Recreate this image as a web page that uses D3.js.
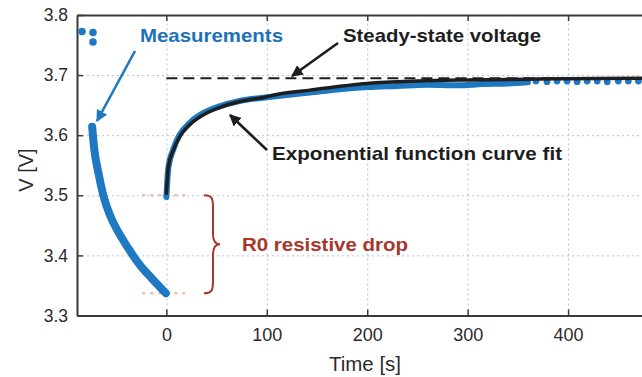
<!DOCTYPE html>
<html>
<head>
<meta charset="utf-8">
<script src="https://cdn.jsdelivr.net/npm/d3@7"></script>
<style>
  body { margin: 0; background: #fff; }
  svg { display: block; font-family: "Liberation Sans", Arial, sans-serif; }
</style>
</head>
<body>
<svg id="chart" width="642" height="377"></svg>
<script>
// measured voltage before the current step (relaxation from load)
const preTime = [-73.9, -71.9, -67.9, -62.9, -56.2, -47.9, -38, -26.4, -14.7, -0.5];
const preVolt = [3.614, 3.578, 3.539, 3.5005, 3.467, 3.439, 3.412, 3.384, 3.362, 3.337];

// measured voltage after t = 0 (dense part)
const postTime = [0, 2, 7, 13, 23, 37, 53, 73, 100, 120, 143, 170, 200, 230, 260, 290, 315, 340, 360];
const postVolt = [3.497, 3.546, 3.577, 3.600, 3.620, 3.637, 3.648, 3.657, 3.663, 3.667, 3.671, 3.676, 3.680, 3.682, 3.684, 3.683, 3.685, 3.686, 3.688];

// sparse samples at the end
const tailTime = [368, 379, 389, 399, 409, 419, 429, 439, 450, 460, 470];
const tailVolt = [3.690, 3.689, 3.690, 3.690, 3.689, 3.690, 3.690, 3.689, 3.690, 3.690, 3.690];

// exponential curve fit
const fitTime = [0, 2, 7, 13, 23, 37, 53, 73, 100, 111, 143, 200, 250, 300, 400, 500];
const fitVolt = [3.503, 3.548, 3.575, 3.597, 3.617, 3.634, 3.646, 3.656, 3.664, 3.668, 3.675, 3.686, 3.690, 3.692, 3.694, 3.695];

const steadyVolt = 3.6947;
const dropTop = 3.5;      // start of relaxation
const dropBottom = 3.337; // end of load

const xTicks = [0, 100, 200, 300, 400];
const yTicks = [3.3, 3.4, 3.5, 3.6, 3.7, 3.8];

const blue = '#1f79c2';
const red = '#a8362b';

const svg = d3.select('#chart');

const pLeft = 77, pTop = 15, pBottom = 315.5, pRight = 668.5;
const x = d3.scaleLinear().domain([-89, 500]).range([pLeft, pRight]);
const y = d3.scaleLinear().domain([3.3, 3.8]).range([pBottom, pTop]);

// grid
svg.append('g')
  .attr('transform', `translate(0,${pBottom})`)
  .call(d3.axisBottom(x).tickValues(xTicks).tickSize(-(pBottom - pTop)).tickFormat(''))
  .call(g => g.select('.domain').remove())
  .call(g => g.selectAll('line').attr('stroke', '#b3c2d6').attr('stroke-dasharray', '2,3'));
svg.append('g')
  .attr('transform', `translate(${pLeft},0)`)
  .call(d3.axisLeft(y).tickValues(yTicks.slice(1, -1)).tickSize(-(pRight - pLeft)).tickFormat(''))
  .call(g => g.select('.domain').remove())
  .call(g => g.selectAll('line').attr('stroke', '#b3c2d6').attr('stroke-dasharray', '2,3'));

// axes (box, ticks inward)
const xAxis = svg.append('g')
  .attr('transform', `translate(0,${pBottom})`)
  .call(d3.axisBottom(x).tickValues(xTicks).tickSize(-6).tickSizeOuter(0).tickPadding(15));
const xTop = svg.append('g')
  .attr('transform', `translate(0,${pTop})`)
  .call(d3.axisTop(x).tickValues(xTicks).tickSize(-6).tickSizeOuter(0).tickFormat(''));
const yAxis = svg.append('g')
  .attr('transform', `translate(${pLeft},0)`)
  .call(d3.axisLeft(y).tickValues(yTicks).tickSize(-6).tickSizeOuter(0).tickPadding(9).tickFormat(d3.format('.1f')));

[xAxis, xTop, yAxis].forEach(g => {
  g.select('.domain').attr('stroke', '#3a3a3a').attr('stroke-width', 2);
  g.selectAll('.tick line').attr('stroke', '#3a3a3a').attr('stroke-width', 1.5);
  g.selectAll('text').attr('font-size', 17.5).attr('fill', '#2b2b2b').attr('font-family', '"Liberation Sans", Arial, sans-serif');
});
xAxis.selectAll('text').attr('font-size', 18).attr('dy', '0.6em');

svg.append('text')
  .attr('x', 365).attr('y', 371)
  .attr('text-anchor', 'middle')
  .attr('font-size', 20.5).attr('fill', '#2b2b2b')
  .text('Time [s]');
svg.append('text')
  .attr('transform', 'translate(33,170) rotate(-90)')
  .attr('text-anchor', 'middle')
  .attr('font-size', 20).attr('fill', '#2b2b2b')
  .text('V [V]');

// R0 drop guides
svg.append('g').selectAll('line')
  .data([dropTop, dropBottom])
  .join('line')
  .attr('x1', x(-24)).attr('x2', x(23))
  .attr('y1', d => y(d)).attr('y2', d => y(d))
  .attr('stroke', '#eab29a').attr('stroke-width', 2).attr('stroke-dasharray', '3,5');

// steady-state dashed line
svg.append('line')
  .attr('x1', x(0)).attr('x2', x(500))
  .attr('y1', y(steadyVolt)).attr('y2', y(steadyVolt))
  .attr('stroke', '#1e1e1e').attr('stroke-width', 2).attr('stroke-dasharray', '11,6');

const line = d3.line().curve(d3.curveMonotoneX);

// measurements
svg.append('path')
  .attr('d', line(preTime.map((t, i) => [x(t), y(preVolt[i])])))
  .attr('fill', 'none').attr('stroke', blue).attr('stroke-width', 8)
  .attr('stroke-linecap', 'round').attr('stroke-linejoin', 'round');
svg.append('path')
  .attr('d', line(postTime.map((t, i) => [x(t), y(postVolt[i])])))
  .attr('fill', 'none').attr('stroke', blue).attr('stroke-width', 6)
  .attr('stroke-linecap', 'round').attr('stroke-linejoin', 'round');
svg.append('g').selectAll('circle')
  .data(tailTime)
  .join('circle')
  .attr('cx', d => x(d))
  .attr('cy', (d, i) => y(tailVolt[i]))
  .attr('r', 3.4)
  .attr('fill', blue);

// fit
svg.append('path')
  .attr('d', line(fitTime.map((t, i) => [x(t), y(fitVolt[i])])))
  .attr('fill', 'none').attr('stroke', '#1e1e1e').attr('stroke-width', 3.5)
  .attr('stroke-linecap', 'round');

// legend marker (three dots)
svg.append('g').selectAll('circle')
  .data([[82, 31.5], [93, 32.5], [93, 42]])
  .join('circle')
  .attr('cx', d => d[0]).attr('cy', d => d[1]).attr('r', 3.8)
  .attr('fill', blue);

// arrow heads
const defs = svg.append('defs');
[['headBlue', blue], ['headBlack', '#1e1e1e']].forEach(([id, c]) => {
  defs.append('marker')
    .attr('id', id).attr('viewBox', '0 0 10 10')
    .attr('refX', 9).attr('refY', 5)
    .attr('markerWidth', 4.5).attr('markerHeight', 4.5)
    .attr('orient', 'auto')
    .append('path').attr('d', 'M0,0L10,5L0,10z').attr('fill', c);
});

const arrows = [
  { x1: 135, y1: 51, x2: 97, y2: 121, c: blue, m: 'headBlue' },
  { x1: 338, y1: 43, x2: 292, y2: 76, c: '#1e1e1e', m: 'headBlack' },
  { x1: 267, y1: 150, x2: 230, y2: 115, c: '#1e1e1e', m: 'headBlack' }
];
svg.append('g').selectAll('line')
  .data(arrows)
  .join('line')
  .attr('x1', d => d.x1).attr('y1', d => d.y1)
  .attr('x2', d => d.x2).attr('y2', d => d.y2)
  .attr('stroke', d => d.c).attr('stroke-width', 2.6)
  .attr('marker-end', d => `url(#${d.m})`);

// curly brace for the R0 drop
const bx = 204, by0 = y(dropTop), by1 = y(dropBottom), bm = (by0 + by1) / 2;
svg.append('path')
  .attr('d', `M${bx},${by0} C${bx + 8},${by0} ${bx + 9},${by0 + 3} ${bx + 9},${by0 + 12}` +
    ` L${bx + 9},${bm - 10} C${bx + 9},${bm - 3} ${bx + 12},${bm} ${bx + 16},${bm}` +
    ` C${bx + 12},${bm} ${bx + 9},${bm + 3} ${bx + 9},${bm + 10}` +
    ` L${bx + 9},${by1 - 12} C${bx + 9},${by1 - 3} ${bx + 8},${by1} ${bx},${by1}`)
  .attr('fill', 'none').attr('stroke', red).attr('stroke-width', 2);

// labels
const labels = [
  { t: 'Measurements', x: 140, y: 42, w: 143, c: '#1c72b8' },
  { t: 'Steady-state voltage', x: 343, y: 42, w: 198, c: '#1e1e1e' },
  { t: 'Exponential function curve fit', x: 272, y: 160, w: 290, c: '#1e1e1e' },
  { t: 'R0 resistive drop', x: 242, y: 251, w: 166, c: red }
];
svg.append('g').selectAll('text')
  .data(labels)
  .join('text')
  .attr('x', d => d.x).attr('y', d => d.y)
  .attr('font-size', 19).attr('font-weight', 'bold')
  .attr('textLength', d => d.w).attr('lengthAdjust', 'spacingAndGlyphs')
  .attr('fill', d => d.c)
  .text(d => d.t);
</script>
</body>
</html>
